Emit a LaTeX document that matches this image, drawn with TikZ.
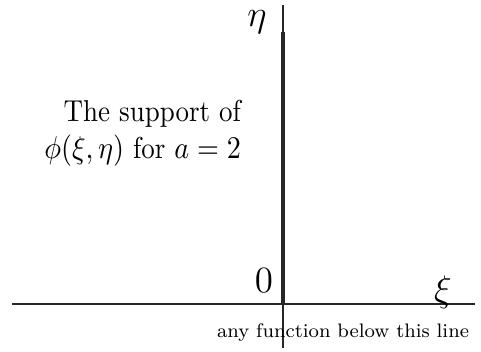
\documentclass[tikz,border=0pt]{standalone}
\usepackage{amsmath}
\usetikzlibrary{positioning}
\tikzset{
  axis/.style={draw=black!85,line width=.45pt},
  support/.style={draw=black!85,line width=1.7pt},
  axislabel/.style={font=\Large,inner sep=1pt},
  notelabel/.style={font=\fontsize{7.6}{9}\selectfont,inner sep=1pt}
}

\begin{document}
\begin{tikzpicture}[x=0.389pt,y=-0.389pt]
  \useasboundingbox (0,0) rectangle (481,351);

  % axes
  \coordinate (xl) at (12,304);
  \coordinate (xr) at (475,304);
  \coordinate (yb) at (283,348);
  \coordinate (yt) at (283,5);
  \draw[axis] (xl) -- (xr);
  \draw[axis] (yb) -- (yt);

  % support segment
  \coordinate (s0) at (283,304);
  \coordinate (s1) at (283,32);
  \draw[support] (s0) -- (s1);

  \node[axislabel] (eta) at (257,22) {$\eta$};
  \node[axislabel] (zero) at (264,281) {$0$};
  \node[axislabel] (xi) at (443,292) {$\xi$};

  \node[align=right,anchor=east,yscale=1.12,transform shape,
        font=\fontsize{10.5}{12}\selectfont] (supp) at (250,133)
    {The support of\\[1pt]$\phi(\xi,\eta)$ for $a=2$};
  \node[notelabel] (note) at (343,333) {any function below this line};
\end{tikzpicture}
\end{document}
